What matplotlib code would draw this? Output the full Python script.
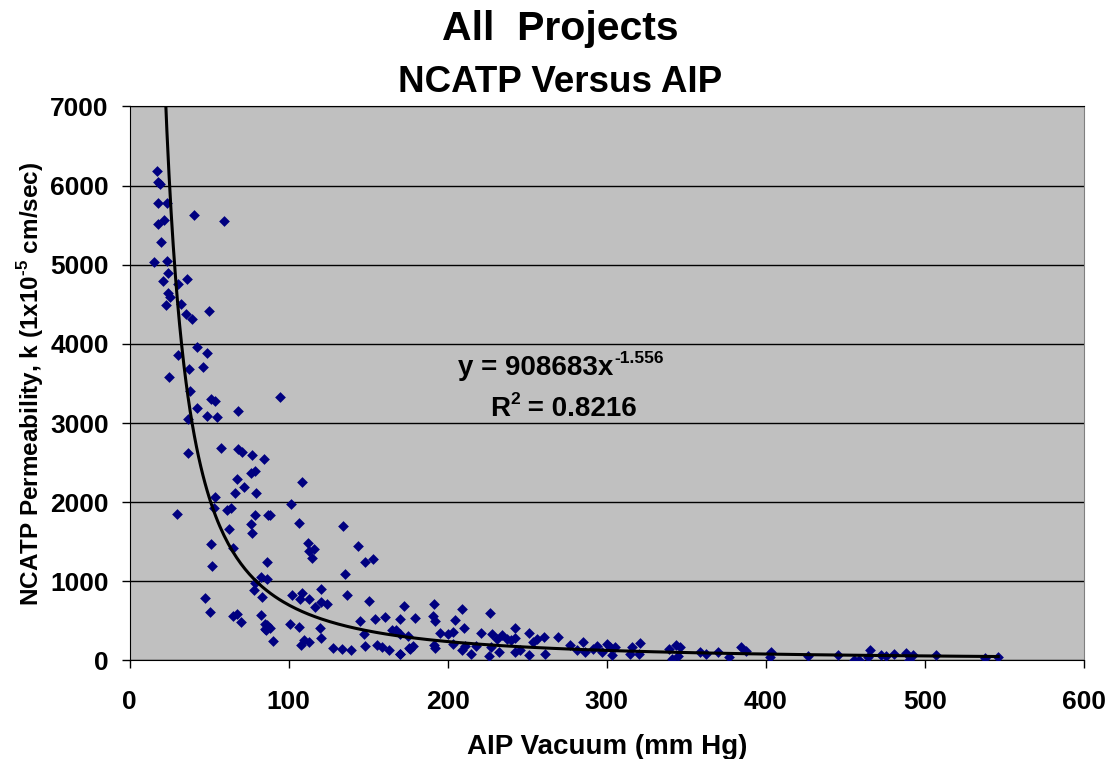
import matplotlib
matplotlib.use("Agg")
import matplotlib.pyplot as plt
import numpy as np

plt.rcParams["font.family"] = ["Liberation Sans", "DejaVu Sans"]
plt.rcParams["font.weight"] = "bold"
plt.rcParams["mathtext.fontset"] = "custom"
plt.rcParams["mathtext.rm"] = "Liberation Sans:bold"
plt.rcParams["mathtext.bf"] = "Liberation Sans:bold"

# AIP vacuum (mm Hg) and NCATP permeability (1e-5 cm/sec)
aip = [
    17.4, 18.0, 19.1, 18.0, 23.7, 40.6, 59.2, 18.0, 21.6, 19.7, 15.5, 23.3,
    24.1, 35.9, 21.2, 30.6, 24.1, 25.6, 22.7, 32.1, 49.8, 35.2, 39.4,
    42.5, 30.6, 48.4, 37.3, 46.1, 25.0, 37.9, 50.9, 54.0, 42.1, 68.0, 36.9,
    48.4, 55.0, 36.7, 57.6, 68.0, 70.7, 77.0, 84.3, 79.1, 76.6, 67.6, 71.8,
    66.6, 79.5, 53.6,
    30.0, 53.0, 61.3, 64.0, 79.1, 76.6, 77.0, 87.0, 62.8, 51.5, 65.1, 51.9,
    86.4, 82.9, 78.7, 78.0, 83.3, 47.3, 50.5, 64.9, 67.6, 69.9, 82.9, 85.0,
    85.4,
    94.5, 108.2, 101.7, 88.3, 106.5, 134.3, 112.3, 115.9, 112.7, 114.9,
    143.7, 147.8, 153.1, 135.7, 86.2, 120.1, 102.3, 108.6, 107.1, 112.7,
    136.4, 116.5, 120.1, 123.8, 150.3, 172.7, 100.8, 106.5, 86.2, 88.3,
    85.6, 119.6, 145.1, 154.5, 160.8, 170.2, 147.2, 165.0, 167.7, 90.4,
    109.6, 112.7, 107.5, 120.1, 128.0, 133.7, 139.5, 148.3, 155.6, 158.7,
    162.9, 169.8, 175.4,
    191.1, 208.9, 226.6, 179.2, 190.7, 192.2, 204.3, 210.0, 221.0, 194.9,
    200.1, 203.3, 170.2, 174.8, 227.7, 230.9, 234.4, 237.1, 239.8, 242.3,
    242.3, 251.1, 253.8, 255.9, 260.5, 269.5, 276.8, 284.8, 291.4, 176.5,
    178.2, 191.1, 192.2, 203.6, 208.9, 211.0, 214.7, 217.9, 226.2, 227.1,
    232.5, 242.3, 245.5, 251.1, 261.1, 281.0, 286.2, 170.2,
    293.9, 299.8, 301.9, 305.0, 303.0, 296.7, 316.1, 321.1, 314.4, 320.3,
    338.9, 343.7, 346.2, 341.2, 344.7, 358.3, 362.5, 369.8, 376.7, 384.5,
    387.2, 403.3, 402.6, 426.2, 445.0,
    455.5, 458.2, 465.3, 464.4, 472.2, 475.3, 480.6, 487.9, 492.5, 490.0,
    506.7, 537.6, 546.0,
]
perm = [
    6190, 6047, 6021, 5781, 5781, 5624, 5548, 5519, 5570, 5282, 5034, 5042,
    4894, 4819, 4794, 4759, 4641, 4599, 4490, 4506, 4418, 4380, 4313,
    3966, 3865, 3890, 3680, 3713, 3579, 3410, 3300, 3283, 3190, 3152, 3051,
    3089, 3080, 2620, 2684, 2667, 2633, 2591, 2540, 2396, 2363, 2287, 2186,
    2118, 2118, 2067,
    1857, 1933, 1899, 1933, 1835, 1722, 1611, 1835, 1667, 1477, 1422, 1190,
    1244, 1054, 978, 886, 801, 789, 611, 561, 591, 485, 578, 464,
    401,
    3325, 2257, 1971, 1844, 1738, 1705, 1485, 1414, 1384, 1295,
    1443, 1240, 1278, 1092, 1034, 899, 823, 857, 772, 772,
    832, 675, 738, 709, 747, 684, 456, 422, 443, 414,
    389, 414, 494, 527, 549, 519, 338, 389, 389, 241,
    253, 232, 199, 282, 161, 143, 135, 181, 199, 168,
    127, 76, 156,
    717, 654, 599, 535, 557, 494, 515, 414, 351, 346,
    329, 358, 338, 308, 329, 275, 316, 275, 253, 414,
    287, 351, 232, 275, 295, 295, 190, 232, 148, 148,
    177, 190, 161, 211, 135, 177, 85, 177, 51, 168,
    105, 105, 127, 63, 76, 127, 105, 85,
    177, 211, 168, 168, 63, 105, 168, 219, 85, 85,
    148, 190, 168, 22, 51, 105, 85, 105, 42, 168,
    118, 105, 42, 51, 63,
    9, 9, 127, 42, 63, 51, 85, 97, 72, 9,
    63, 34, 42,
]

# power trendline reported on the chart
fit_a = 908683
fit_b = -1.556

x_ticks = [0, 100, 200, 300, 400, 500, 600]
y_ticks = [0, 1000, 2000, 3000, 4000, 5000, 6000, 7000]

fig = plt.figure(figsize=(11.1, 7.59), dpi=100)
ax = fig.add_axes([0.1167, 0.1298, 0.860, 0.7299])
ax.set_facecolor("#C0C0C0")

ax.scatter(aip, perm, marker="D", s=30, color="#000080", linewidths=0, zorder=3)

xs = np.linspace(min(aip), max(aip), 400)
ax.plot(xs, fit_a * xs ** fit_b, color="black", lw=2.2, zorder=4)

ax.set_xlim(0, 600)
ax.set_ylim(0, 7000)
ax.set_xticks(x_ticks)
ax.set_yticks(y_ticks)
ax.tick_params(labelsize=19, direction="out", length=6, width=1)
ax.tick_params(axis="x", pad=15)
ax.tick_params(axis="y", pad=9)
for lab in ax.get_xticklabels() + ax.get_yticklabels():
    lab.set_fontweight("bold")
ax.yaxis.grid(True, color="black", lw=1)
ax.set_axisbelow(True)
for side in ["left", "bottom", "top"]:
    ax.spines[side].set_color("black")
ax.spines["right"].set_color("#808080")

ax.set_xlabel("AIP Vacuum (mm Hg)", fontsize=20, fontweight="bold", labelpad=15)
ax.set_ylabel(r"NCATP Permeability, k (1x10$^{\text{-5}}$ cm/sec)",
              fontsize=17.5, fontweight="bold", labelpad=3)

fig.text(0.5045, 1 - 40 / 759, "All  Projects", ha="center", va="baseline",
         fontsize=29.5, fontweight="bold")
fig.text(0.5045, 1 - 92 / 759, "NCATP Versus AIP", ha="center", va="baseline",
         fontsize=26.5, fontweight="bold")

# trendline label, with small raised exponents
eq = ax.text(206.6, 3608, "y = 908683x", ha="left", va="baseline",
             fontsize=20, fontweight="bold")
ax.annotate("-1.556", xy=(1, 1), xycoords=eq, xytext=(0.5, 3),
            textcoords="offset points", ha="left", va="top",
            fontsize=12.5, fontweight="bold")
r2 = ax.text(226.6, 3089, "R", ha="left", va="baseline",
             fontsize=20, fontweight="bold")
ax.annotate("2", xy=(1, 1), xycoords=r2, xytext=(0.5, 3),
            textcoords="offset points", ha="left", va="top",
            fontsize=12.5, fontweight="bold")
ax.annotate(" = 0.8216", xy=(1, 0), xycoords=r2, xytext=(7.5, 0),
            textcoords="offset points", ha="left", va="bottom",
            fontsize=20, fontweight="bold")

fig.savefig("out.png", dpi=100)
